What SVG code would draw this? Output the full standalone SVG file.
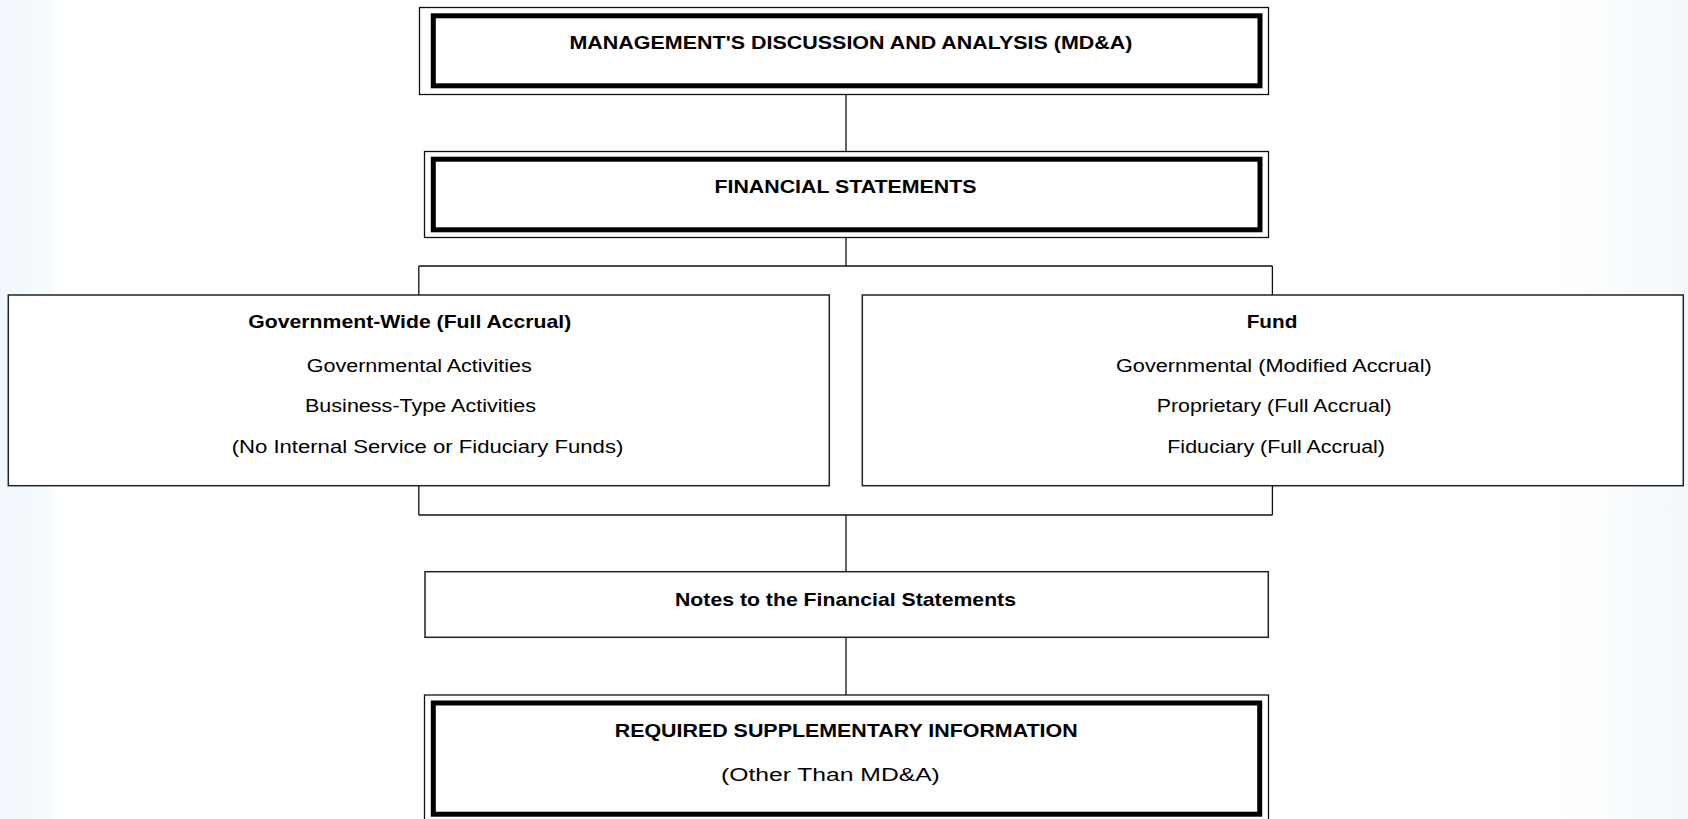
<svg xmlns="http://www.w3.org/2000/svg" width="1688" height="819" viewBox="0 0 1688 819">
<defs>
<linearGradient id="rfade" x1="0" y1="0" x2="1" y2="0">
<stop offset="0" stop-color="#fff"/>
<stop offset="1" stop-color="#f3f8fc"/>
</linearGradient>
<linearGradient id="lfade" x1="0" y1="0" x2="1" y2="0">
<stop offset="0" stop-color="#f1f7fc"/>
<stop offset="0.8" stop-color="#f5fafd"/>
<stop offset="1" stop-color="#fff"/>
</linearGradient>
</defs>
<style>
.thin{fill:#fff;stroke:#111;stroke-width:1.3}
.thick{fill:none;stroke:#000;stroke-width:5}
.box{fill:#fff;stroke:#222;stroke-width:1.5}
.conn{fill:none;stroke:#111;stroke-width:1.3}
text{font-family:"Liberation Sans",Arial,sans-serif;fill:#000}
.b{font-weight:bold;font-size:19px}
.r{font-size:17.5px}
</style>
<rect x="0" y="0" width="1688" height="819" fill="#fff"/>
<rect x="0" y="0" width="60" height="819" fill="url(#lfade)"/>
<rect x="1552" y="0" width="136" height="819" fill="url(#rfade)"/>
<g id="connectors">
<path class="conn" d="M846 94.5V151.5M846 237.7V266M418.8 266H1272.4M418.8 266V295M1272.4 266V295"/>
<path class="conn" d="M418.8 485.7V515M1272.4 485.7V515M418.8 515H1272.4M846 515V571.7M846 637.3V695"/>
</g>
<g id="mdna">
<rect class="thin" x="419.5" y="7.5" width="849" height="87"/>
<rect class="thick" x="433.3" y="15.8" width="826.7" height="70"/>
<text class="b" x="569.5" y="49" textLength="563" lengthAdjust="spacingAndGlyphs">MANAGEMENT'S DISCUSSION AND ANALYSIS (MD&amp;A)</text>
</g>
<g id="financial-statements">
<rect class="thin" x="424.5" y="151.5" width="844" height="86"/>
<rect class="thick" x="433.3" y="159.2" width="826.7" height="70.6"/>
<text class="b" x="714.5" y="193.3" textLength="262" lengthAdjust="spacingAndGlyphs">FINANCIAL STATEMENTS</text>
</g>
<g id="government-wide">
<rect class="box" x="8.3" y="295" width="821" height="190.7"/>
<text class="b" x="248.3" y="328" textLength="323" lengthAdjust="spacingAndGlyphs">Government-Wide (Full Accrual)</text>
<text class="r" x="306.7" y="371.5" textLength="225" lengthAdjust="spacingAndGlyphs">Governmental Activities</text>
<text class="r" x="305" y="411.7" textLength="231" lengthAdjust="spacingAndGlyphs">Business-Type Activities</text>
<text class="r" x="231.7" y="452.7" textLength="391.6" lengthAdjust="spacingAndGlyphs">(No Internal Service or Fiduciary Funds)</text>
</g>
<g id="fund">
<rect class="box" x="862.3" y="295" width="821" height="190.7"/>
<text class="b" x="1246.7" y="328" textLength="50.6" lengthAdjust="spacingAndGlyphs">Fund</text>
<text class="r" x="1116" y="371.5" textLength="315.7" lengthAdjust="spacingAndGlyphs">Governmental (Modified Accrual)</text>
<text class="r" x="1156.7" y="411.7" textLength="235" lengthAdjust="spacingAndGlyphs">Proprietary (Full Accrual)</text>
<text class="r" x="1167.3" y="452.7" textLength="217.7" lengthAdjust="spacingAndGlyphs">Fiduciary (Full Accrual)</text>
</g>
<g id="notes">
<rect class="box" x="425" y="571.7" width="843.3" height="65.6"/>
<text class="b" x="675" y="605.7" textLength="341" lengthAdjust="spacingAndGlyphs">Notes to the Financial Statements</text>
</g>
<g id="rsi">
<rect class="thin" x="424.5" y="695" width="844" height="130"/>
<rect class="thick" x="433.3" y="703" width="826.4" height="111.2"/>
<text class="b" x="614.7" y="737.3" textLength="463" lengthAdjust="spacingAndGlyphs">REQUIRED SUPPLEMENTARY INFORMATION</text>
<text class="r" x="721" y="780.5" textLength="218.8" lengthAdjust="spacingAndGlyphs">(Other Than MD&amp;A)</text>
</g>
</svg>
